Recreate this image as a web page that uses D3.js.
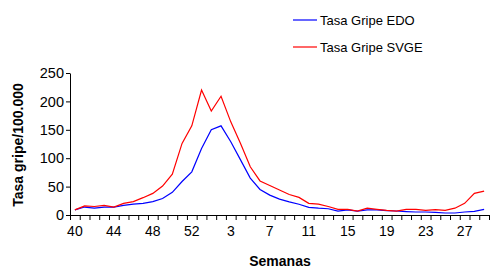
<!DOCTYPE html>
<html>
<head>
<meta charset="utf-8">
<script src="https://cdn.jsdelivr.net/npm/d3@7"></script>
<style>
body { margin: 0; background: #fff; }
svg { font-family: "Liberation Sans", Arial, sans-serif; }
</style>
</head>
<body>
<script>
// semanas 40-53 de 2009 y 1-29 de 2010
var weeks = [40,41,42,43,44,45,46,47,48,49,50,51,52,53,
             1,2,3,4,5,6,7,8,9,10,11,12,13,14,15,16,17,18,19,20,21,22,23,24,25,26,27,28,29];
var tasaEDO = [9,14,12,14,14,17,19,20.5,23.5,29,40,59,76,117,150,157,129,97,65,45,35,28,23,19,
               13.5,12,11,7,9,7,9,9,7.6,7,6,5.3,5.3,4.7,3.5,3.5,5.3,6.5,10];
var tasaSVGE = [9,16,15,17,14,20.5,23.5,30.5,38,51,72,126,157,220,183,209,164,126,85,60,52,44,36,31,
                20.5,19,15,10,10,7,12,10,8,7,10,10,8,9.4,8,12,20.5,38,42];
var yTicks = [0,50,100,150,200,250];
var seriesNames = ["Tasa Gripe EDO", "Tasa Gripe SVGE"];
var seriesColors = ["#0000ff", "#ff0000"];

var width = 491, height = 270;
var plotLeft = 70, plotRight = 489, plotTop = 73, plotBottom = 215;

var svg = d3.select("body").append("svg").attr("width", width).attr("height", height);

var x = d3.scaleBand().domain(weeks.map(String)).range([plotLeft, plotRight]).padding(0);
var xIdx = d3.scaleLinear().domain([0, weeks.length]).range([plotLeft, plotRight]);
var y = d3.scaleLinear().domain([0, 250]).range([plotBottom, plotTop]);

// eje x: marcas entre categorias
var xTicksAxis = d3.axisBottom(xIdx).tickValues(d3.range(weeks.length + 1)).tickSize(5).tickFormat("");
svg.append("g").attr("transform", "translate(0," + plotBottom + ")").call(xTicksAxis)
    .call(function(g){ g.select(".domain").attr("stroke", "#000"); });

// etiquetas cada 4 semanas
var labelWeeks = weeks.filter(function(d, i){ return i % 4 == 0; }).map(String);
var xLabelAxis = d3.axisBottom(x).tickValues(labelWeeks).tickSize(0).tickPadding(11);
svg.append("g").attr("transform", "translate(0," + plotBottom + ")").call(xLabelAxis)
    .call(function(g){ g.select(".domain").remove(); })
    .selectAll("text").attr("font-size", 14).attr("fill", "#000").attr("font-family", "Liberation Sans, Arial");

var yAxis = d3.axisLeft(y).tickValues(yTicks).tickSize(4).tickPadding(2).tickSizeOuter(0);
svg.append("g").attr("transform", "translate(" + plotLeft + ",0)").call(yAxis)
    .selectAll("text").attr("font-size", 14.5).attr("fill", "#000").attr("font-family", "Liberation Sans, Arial");

svg.selectAll(".tick line").attr("stroke", "#000");

var line = function(values) {
    return d3.line()
        .x(function(d, i){ return x(String(weeks[i])) + x.bandwidth() / 2; })
        .y(function(d){ return y(d); })(values);
};

var allSeries = [tasaEDO, tasaSVGE];
allSeries.forEach(function(values, k) {
    svg.append("path").attr("d", line(values))
        .attr("fill", "none").attr("stroke", seriesColors[k]).attr("stroke-width", 1.2);
});

// leyenda
seriesNames.forEach(function(name, k) {
    var ly = 20 + k * 27;
    svg.append("line").attr("x1", 293).attr("x2", 317).attr("y1", ly).attr("y2", ly)
        .attr("stroke", seriesColors[k]).attr("stroke-width", 1.2);
    svg.append("text").attr("x", 320).attr("y", ly + 4.5).attr("font-size", 13).text(name);
});

svg.append("text").attr("x", 280).attr("y", 266).attr("text-anchor", "middle")
    .attr("font-size", 14).attr("font-weight", "bold").text("Semanas");

svg.append("text").attr("transform", "translate(23,145) rotate(-90)").attr("text-anchor", "middle")
    .attr("font-size", 14).attr("font-weight", "bold").text("Tasa gripe/100.000");
</script>
</body>
</html>
